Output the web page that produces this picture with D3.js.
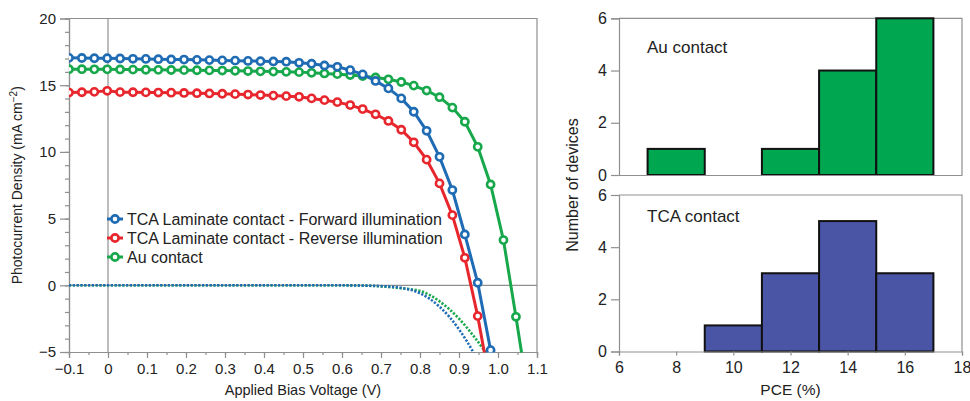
<!DOCTYPE html>
<html>
<head>
<meta charset="utf-8">
<script src="https://cdn.jsdelivr.net/npm/d3@7"></script>
<style>
  body { margin: 0; background: #fff; }
  svg { display: block; font-family: "Liberation Sans", Arial, sans-serif; }
</style>
</head>
<body>
<div id="chart"></div>
<script>
// J-V sweep voltages (V), one per marker
var voltage = [-0.100, -0.067, -0.035, -0.002, 0.031, 0.064, 0.097, 0.129, 0.162, 0.195,
  0.228, 0.260, 0.293, 0.326, 0.359, 0.391, 0.424, 0.457, 0.490, 0.522,
  0.555, 0.588, 0.621, 0.653, 0.686, 0.719, 0.752, 0.784, 0.817, 0.850,
  0.883, 0.915, 0.948, 0.981, 1.014, 1.046, 1.079];

// photocurrent density (mA cm-2)
var jForward = [17.05, 17.04, 17.02, 17.02, 17.00, 16.98, 16.97, 16.95, 16.93, 16.92,
  16.90, 16.88, 16.86, 16.84, 16.82, 16.80, 16.78, 16.76, 16.68, 16.61,
  16.48, 16.38, 16.13, 15.81, 15.32, 14.76, 14.01, 13.01, 11.58, 9.63,
  7.14, 3.81, 0.19, -4.86, -9.2];
var jReverse = [14.45, 14.47, 14.50, 14.58, 14.48, 14.47, 14.46, 14.45, 14.44, 14.42,
  14.40, 14.38, 14.36, 14.33, 14.30, 14.26, 14.22, 14.18, 14.13, 14.01,
  13.88, 13.73, 13.51, 13.21, 12.82, 12.32, 11.66, 10.72, 9.42, 7.64,
  5.26, 2.06, -2.31, -7.6];
var jAu = [16.20, 16.20, 16.19, 16.19, 16.18, 16.17, 16.16, 16.15, 16.14, 16.13,
  16.12, 16.11, 16.10, 16.08, 16.06, 16.04, 16.02, 16.00, 15.98, 15.93,
  15.88, 15.83, 15.76, 15.68, 15.58, 15.44, 15.24, 14.97, 14.60, 14.10,
  13.32, 12.26, 10.38, 7.56, 3.39, -2.36, -8.5];

// dark curves (dotted)
var darkVoltage = [-0.1, 0.0, 0.1, 0.2, 0.3, 0.4, 0.5, 0.6, 0.65, 0.7, 0.75, 0.8, 0.85, 0.9, 0.94, 0.97];
var darkForward = [0, 0, 0, 0, 0, 0, 0, 0, -0.02, -0.06, -0.18, -0.6, -1.6, -3.3, -5.2, -7];
var darkAu = [0, 0, 0, 0, 0, 0, 0, 0, -0.02, -0.08, -0.22, -0.42, -1.2, -2.5, -3.9, -5.1];

var legendLabels = ["TCA Laminate contact - Forward illumination",
  "TCA Laminate contact - Reverse illumination", "Au contact"];

// histograms of PCE (%)
var binEdges = [7, 9, 11, 13, 15, 17];
var auCounts = [1, 0, 1, 4, 6];
var tcaCounts = [0, 1, 3, 5, 3];
var panelLabels = ["Au contact", "TCA contact"];

var blue = "#1f6cb4", red = "#e8262d", green = "#17a84b";
var axisGrey = "#8f8f8f";
var textCol = "#222";

var width = 970, height = 401;
var svg = d3.select("#chart").append("svg")
  .attr("width", width)
  .attr("height", height);

// ---------- left: J-V ----------
var L = { left: 69, right: 537, top: 18.5, bottom: 352 };
var x = d3.scaleLinear().domain([-0.1, 1.1]).range([L.left, L.right]);
var y = d3.scaleLinear().domain([-5, 20]).range([L.bottom, L.top]);

var minus = d3.format(".1f");
var xfmt = d => (d === 0 ? "0" : minus(d));

// frame top + right
svg.append("path")
  .attr("d", `M${L.left},${L.top}H${L.right}V${L.bottom}`)
  .attr("fill", "none").attr("stroke", axisGrey).attr("stroke-width", 1.2);

// zero lines
svg.append("line")
  .attr("x1", x(0)).attr("x2", x(0)).attr("y1", L.top).attr("y2", L.bottom)
  .attr("stroke", axisGrey).attr("stroke-width", 1.2);
svg.append("line")
  .attr("x1", L.left).attr("x2", L.right).attr("y1", y(0)).attr("y2", y(0))
  .attr("stroke", axisGrey).attr("stroke-width", 1.2);

function styleAxis(g) {
  g.selectAll(".domain").attr("stroke", axisGrey).attr("stroke-width", 1.2);
  g.selectAll(".tick line").attr("stroke", axisGrey).attr("stroke-width", 1.2);
  g.selectAll("text").attr("fill", textCol).style("font-size", "15px");
}

// minor ticks first
svg.append("g")
  .attr("transform", `translate(0,${L.bottom})`)
  .call(d3.axisBottom(x).tickValues(d3.range(-0.1, 1.11, 0.05)).tickSize(3).tickFormat(""))
  .call(styleAxis);
svg.append("g")
  .attr("transform", `translate(0,${L.bottom})`)
  .call(d3.axisBottom(x).tickValues(d3.range(-1, 12).map(d => d / 10)).tickSize(6).tickPadding(5).tickFormat(xfmt))
  .call(styleAxis);
svg.append("g")
  .attr("transform", `translate(${L.left},0)`)
  .call(d3.axisLeft(y).tickValues(d3.range(-5, 21)).tickSize(4).tickFormat(""))
  .call(styleAxis);
svg.append("g")
  .attr("transform", `translate(${L.left},0)`)
  .call(d3.axisLeft(y).tickValues([-5, 0, 5, 10, 15, 20]).tickSize(9).tickPadding(4))
  .call(styleAxis);

svg.append("defs").append("clipPath").attr("id", "clipJV")
  .append("rect")
  .attr("x", L.left).attr("y", L.top - 8)
  .attr("width", L.right - L.left).attr("height", L.bottom - L.top + 8.5);

var plot = svg.append("g").attr("clip-path", "url(#clipJV)");

var line = d3.line().x(d => x(d[0])).y(d => y(d[1]));
var smooth = d3.line().x(d => x(d[0])).y(d => y(d[1])).curve(d3.curveMonotoneX);

// dark dotted
[[darkAu, green], [darkForward, blue]].forEach(function (s) {
  plot.append("path")
    .datum(darkVoltage.map((v, i) => [v, s[0][i]]))
    .attr("d", smooth)
    .attr("fill", "none")
    .attr("stroke", s[1])
    .attr("stroke-width", 2.6)
    .attr("stroke-dasharray", "2.2,1.6");
});

var series = [
  { j: jForward, c: blue },
  { j: jReverse, c: red },
  { j: jAu, c: green },
];

series.slice().reverse().forEach(function (s) {
  var pts = s.j.map((j, i) => [voltage[i], j]);
  plot.append("path")
    .datum(pts)
    .attr("d", line)
    .attr("fill", "none")
    .attr("stroke", s.c)
    .attr("stroke-width", 3);
  plot.append("g")
    .selectAll("circle")
    .data(pts)
    .join("circle")
    .attr("cx", d => x(d[0]))
    .attr("cy", d => y(d[1]))
    .attr("r", 3.6)
    .attr("fill", "#fff")
    .attr("stroke", s.c)
    .attr("stroke-width", 2.6);
});

// legend
var leg = svg.append("g");
series.forEach(function (s, i) {
  var yy = 219 + i * 19;
  leg.append("line")
    .attr("x1", 107).attr("x2", 123).attr("y1", yy).attr("y2", yy)
    .attr("stroke", s.c).attr("stroke-width", 3);
  leg.append("circle")
    .attr("cx", 115).attr("cy", yy).attr("r", 3.6)
    .attr("fill", "#fff").attr("stroke", s.c).attr("stroke-width", 2.6);
  leg.append("text")
    .attr("x", 127).attr("y", yy + 5.5)
    .attr("fill", textCol)
    .style("font-size", "16px")
    .text(legendLabels[i]);
});

// axis titles
svg.append("text")
  .attr("x", (L.left + L.right) / 2).attr("y", 395)
  .attr("text-anchor", "middle").attr("fill", textCol)
  .style("font-size", "14.5px")
  .text("Applied Bias Voltage (V)");

var yt = svg.append("text")
  .attr("transform", `translate(22,${(L.top + L.bottom) / 2}) rotate(-90)`)
  .attr("text-anchor", "middle").attr("fill", textCol)
  .style("font-size", "14px");
yt.append("tspan").text("Photocurrent Density (mA cm");
yt.append("tspan").attr("dy", -5).style("font-size", "10px").text("−2");
yt.append("tspan").attr("dy", 5).text(")");

// ---------- right: histograms ----------
var R = { left: 619, right: 962 };
var xh = d3.scaleLinear().domain([6, 18]).range([R.left, R.right]);
var panels = [
  { top: 18.3, bottom: 175, counts: auCounts, fill: "#00a650", label: panelLabels[0], ly: 53 },
  { top: 195, bottom: 351.5, counts: tcaCounts, fill: "#4a55a6", label: panelLabels[1], ly: 222 },
];

panels.forEach(function (p, k) {
  var yh = d3.scaleLinear().domain([0, 6]).range([p.bottom, p.top]);

  svg.append("path")
    .attr("d", `M${R.left},${p.top}H${R.right}V${p.bottom}`)
    .attr("fill", "none").attr("stroke", axisGrey).attr("stroke-width", 1.2);

  var bins = p.counts.map((c, i) => ({ x0: binEdges[i], x1: binEdges[i + 1], n: c }))
    .filter(d => d.n > 0);
  svg.append("g")
    .selectAll("rect")
    .data(bins)
    .join("rect")
    .attr("x", d => xh(d.x0))
    .attr("y", d => yh(d.n))
    .attr("width", d => xh(d.x1) - xh(d.x0))
    .attr("height", d => yh(0) - yh(d.n))
    .attr("fill", p.fill)
    .attr("stroke", "#111")
    .attr("stroke-width", 2);

  svg.append("g")
    .attr("transform", `translate(${R.left},0)`)
    .call(d3.axisLeft(yh).tickValues([0, 2, 4, 6]).tickFormat(d3.format("d")).tickSize(8).tickPadding(4))
    .call(styleAxis)
    .selectAll("text").style("font-size", "16px");

  var xa = d3.axisBottom(xh).tickValues(d3.range(6, 19, 2)).tickFormat(d3.format("d"));
  if (k === 0) xa.tickSize(0).tickFormat("");
  else xa.tickSize(4).tickPadding(6);
  svg.append("g")
    .attr("transform", `translate(0,${p.bottom})`)
    .call(xa)
    .call(styleAxis)
    .selectAll("text").style("font-size", "16px");

  svg.append("text")
    .attr("x", 647).attr("y", p.ly)
    .attr("fill", textCol)
    .style("font-size", "17px")
    .text(p.label);
});

svg.append("text")
  .attr("x", (R.left + R.right) / 2).attr("y", 395)
  .attr("text-anchor", "middle").attr("fill", textCol)
  .style("font-size", "15.5px")
  .text("PCE (%)");

svg.append("text")
  .attr("transform", `translate(578,185) rotate(-90)`)
  .attr("text-anchor", "middle").attr("fill", textCol)
  .style("font-size", "16px")
  .text("Number of devices");
</script>
</body>
</html>
